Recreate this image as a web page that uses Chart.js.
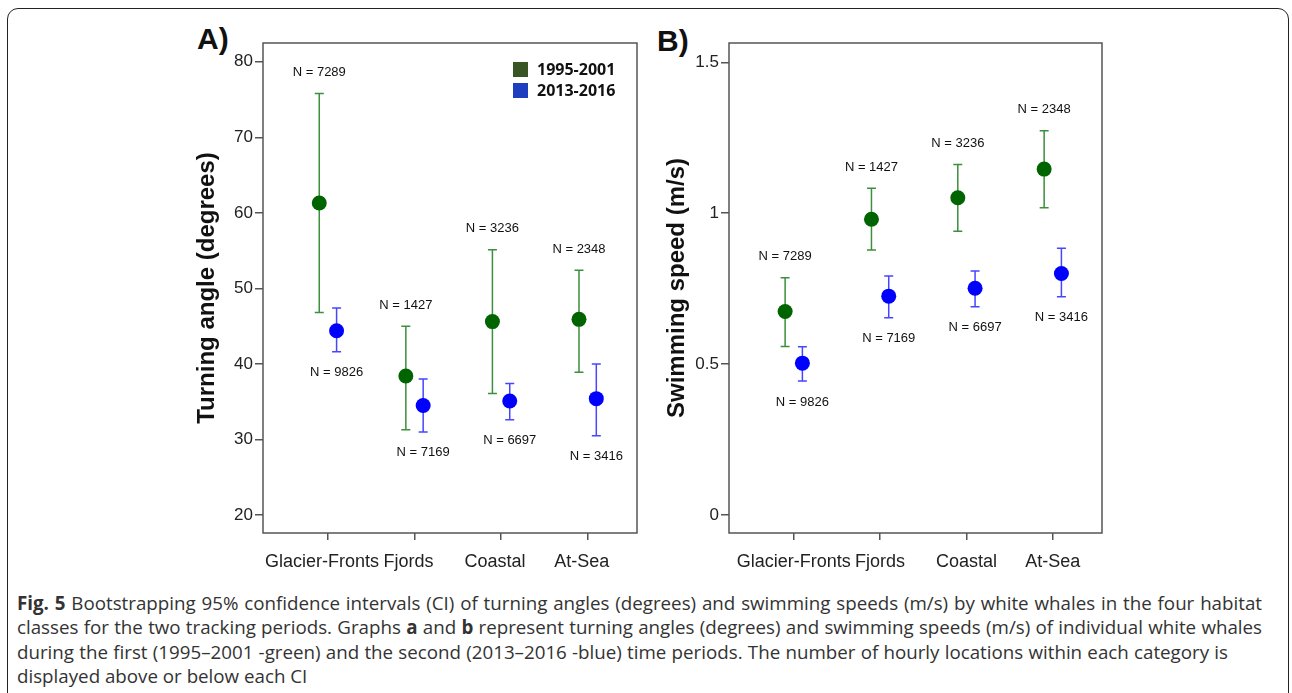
<!DOCTYPE html>
<html>
<head>
<meta charset="utf-8">
<script src="https://cdn.jsdelivr.net/npm/chart.js@4.4.1/dist/chart.umd.min.js"></script>
<style>
  body { margin: 0; background: #fff; width: 1292px; height: 693px; overflow: hidden; position: relative; font-family: "Liberation Sans", Arial, sans-serif; }
  #frame { position: absolute; left: 7px; top: 8px; width: 1280px; height: 740px; border: 1.5px solid #222; border-radius: 11px; }
  canvas { position: absolute; }
  #chartA { left: 180px; top: 20px; }
  #chartB { left: 640px; top: 20px; }
  .panel { position: absolute; font-weight: bold; font-size: 30px; color: #111; }
  #legend { position: absolute; left: 513px; top: 59px; font-family: "Open Sans", sans-serif; font-weight: bold; font-size: 16px; color: #111; }
  #legend div { height: 21px; line-height: 21px; white-space: nowrap; }
  #legend span { display: inline-block; width: 15px; height: 15px; vertical-align: -2px; margin-right: 9px; }
  #caption { position: absolute; left: 17px; top: 591px; font-family: "Open Sans", sans-serif; font-size: 15.5px; color: #333; }
  #caption div { height: 24.3px; line-height: 24.3px; white-space: nowrap; }
  #caption div span { display: inline-block; }
  #caption .j { text-align-last: justify; }
</style>
</head>
<body>
<div id="frame"></div>
<div class="panel" style="left:197px;top:22px">A)</div>
<div class="panel" style="left:657px;top:24px">B)</div>
<canvas id="chartA" width="470" height="560"></canvas>
<canvas id="chartB" width="480" height="560"></canvas>
<div id="legend"></div>
<div id="caption">
  <div data-w="1245"><span><b>Fig. 5</b> Bootstrapping 95% confidence intervals (CI) of turning angles (degrees) and swimming speeds (m/s) by white whales in the four habitat</span></div>
  <div data-w="1245"><span>classes for the two tracking periods. Graphs <b>a</b> and <b>b</b> represent turning angles (degrees) and swimming speeds (m/s) of individual white whales</span></div>
  <div data-w="1211"><span>during the first (1995–2001 -green) and the second (2013–2016 -blue) time periods. The number of hourly locations within each category is</span></div>
  <div><span>displayed above or below each CI</span></div>
</div>
<script>
const categories = ['Glacier-Fronts', 'Fjords', 'Coastal', 'At-Sea'];
const periods = ['1995-2001', '2013-2016'];

// A) turning angle (degrees), mean and 95% CI
const angleMean1 = [61.3, 38.4, 45.6, 45.9];
const angleLow1  = [46.8, 31.3, 36.1, 38.9];
const angleHigh1 = [75.8, 45.0, 55.1, 52.4];
const angleMean2 = [44.4, 34.5, 35.1, 35.4];
const angleLow2  = [41.6, 31.0, 32.6, 30.5];
const angleHigh2 = [47.4, 38.0, 37.4, 40.0];

// B) swimming speed (m/s), mean and 95% CI
const speedMean1 = [0.674, 0.980, 1.051, 1.146];
const speedLow1  = [0.558, 0.878, 0.940, 1.018];
const speedHigh1 = [0.786, 1.083, 1.161, 1.273];
const speedMean2 = [0.503, 0.725, 0.751, 0.800];
const speedLow2  = [0.444, 0.653, 0.690, 0.723];
const speedHigh2 = [0.557, 0.792, 0.808, 0.884];

// number of hourly locations
const count1 = [7289, 1427, 3236, 2348];
const count2 = [9826, 7169, 6697, 3416];

const angleTicks = [20, 30, 40, 50, 60, 70, 80];
const speedTicks = [0, 0.5, 1, 1.5];

const GREEN = '#006400', GREEN_LINE = '#3c8f3c';
const BLUE = '#0000ff', BLUE_LINE = '#4646ff';
const legendColors = ['#375623', '#1d3fbf'];

// legend (inside panel A)
document.getElementById('legend').innerHTML = periods.map((p, i) =>
  `<div><span style="background:${legendColors[i]}"></span>${p}</div>`).join('');

// caption: size the font so the first two lines fill the width, then justify
const cap = document.getElementById('caption');
const lines = [...cap.children];
let k = 1;
lines.slice(0, 2).forEach(d => { k = Math.min(k === 1 ? 99 : k, (+d.dataset.w - 8) / d.firstElementChild.offsetWidth); });
cap.style.fontSize = (15.5 * k).toFixed(2) + 'px';
lines.forEach(d => {
  if (d.dataset.w) {
    d.firstElementChild.style.display = 'block';
    d.style.width = d.dataset.w + 'px';
    d.className = 'j';
  }
});

// error bars, N labels and box frame
const ciPlugin = {
  id: 'ci',
  beforeDatasetsDraw(chart) {
    const { ctx, scales: { x, y } } = chart;
    chart.options.plugins.ci.series.forEach(s => {
      ctx.save();
      ctx.strokeStyle = s.line;
      ctx.lineWidth = 1.5;
      s.low.forEach((lo, i) => {
        const px = x.getPixelForValue(i + 1 + s.dx);
        const y1 = y.getPixelForValue(lo), y2 = y.getPixelForValue(s.high[i]);
        ctx.beginPath();
        ctx.moveTo(px, y1); ctx.lineTo(px, y2);
        ctx.moveTo(px - 4.5, y1); ctx.lineTo(px + 4.5, y1);
        ctx.moveTo(px - 4.5, y2); ctx.lineTo(px + 4.5, y2);
        ctx.stroke();
      });
      ctx.restore();
    });
  },
  afterDatasetsDraw(chart) {
    const { ctx, chartArea: a, scales: { x, y } } = chart;
    ctx.save();
    ctx.font = '13px "Liberation Sans", Arial, sans-serif';
    ctx.fillStyle = '#111';
    ctx.textAlign = 'center';
    ctx.textBaseline = 'middle';
    chart.options.plugins.ci.series.forEach(s => {
      s.n.forEach((n, i) => {
        const px = x.getPixelForValue(i + 1 + s.dx);
        const py = s.above ? y.getPixelForValue(s.high[i]) - 21 : y.getPixelForValue(s.low[i]) + 21;
        ctx.fillText('N = ' + n, px, py);
      });
    });
    ctx.strokeStyle = '#555';
    ctx.lineWidth = 1.5;
    ctx.strokeRect(a.left, a.top, a.right - a.left, a.bottom - a.top);
    ctx.restore();
  }
};

function makeChart(id, o) {
  const pts = (mean, dx) => mean.map((v, i) => ({ x: i + 1 + dx, y: v }));
  return new Chart(document.getElementById(id), {
    type: 'scatter',
    data: {
      datasets: [
        { label: periods[0], data: pts(o.mean1, -0.1), backgroundColor: GREEN, pointRadius: 7.5, pointHoverRadius: 7.5, borderWidth: 0 },
        { label: periods[1], data: pts(o.mean2, 0.1), backgroundColor: BLUE, pointRadius: 7.5, pointHoverRadius: 7.5, borderWidth: 0 }
      ]
    },
    options: {
      responsive: false,
      animation: false,
      layout: { padding: { top: 23, right: o.padRight, left: 0, bottom: 0 } },
      plugins: {
        legend: { display: false },
        tooltip: { enabled: false },
        ci: {
          series: [
            { low: o.low1, high: o.high1, n: count1, line: GREEN_LINE, dx: -0.1, above: true },
            { low: o.low2, high: o.high2, n: count2, line: BLUE_LINE, dx: 0.1, above: false }
          ]
        }
      },
      scales: {
        x: {
          type: 'linear', min: 0.25, max: 4.57,
          afterBuildTicks: s => { s.ticks = categories.map((c, i) => ({ value: i + 1 })); },
          afterFit: s => { s.height = 47; },
          ticks: { callback: v => categories[v - 1], font: { size: 18, family: '"Liberation Sans", Arial' }, color: '#222', padding: 11, maxRotation: 0, labelOffset: o.labelShift },
          grid: { drawOnChartArea: false, drawTicks: true, tickLength: 7, color: '#555', lineWidth: 1.5 },
          border: { display: false }
        },
        y: {
          min: o.min, max: o.max,
          afterBuildTicks: s => { s.ticks = o.ticks.map(v => ({ value: v })); },
          afterFit: s => { s.width = o.axisWidth; },
          ticks: { callback: v => String(v), font: { size: 17, family: '"Liberation Sans", Arial' }, color: '#222', padding: 2 },
          grid: { drawOnChartArea: false, drawTicks: true, tickLength: 8, color: '#555', lineWidth: 1.5 },
          border: { display: false },
          title: { display: true, text: o.title, color: '#111', font: { size: 24, weight: 'bold', family: '"Liberation Sans", Arial' }, padding: { top: o.titlePad, bottom: 0 } }
        }
      }
    },
    plugins: [ciPlugin]
  });
}

makeChart('chartA', {
  mean1: angleMean1, low1: angleLow1, high1: angleHigh1,
  mean2: angleMean2, low2: angleLow2, high2: angleHigh2,
  min: 17.62, max: 82.48, ticks: angleTicks,
  title: 'Turning angle (degrees)', axisWidth: 83, titlePad: 12.6, padRight: 13, labelShift: -6
});

makeChart('chartB', {
  mean1: speedMean1, low1: speedLow1, high1: speedHigh1,
  mean2: speedMean2, low2: speedLow2, high2: speedHigh2,
  min: -0.06, max: 1.564, ticks: speedTicks,
  title: 'Swimming speed (m/s)', axisWidth: 89, titlePad: 22.6, padRight: 18, labelShift: 0
});
</script>
</body>
</html>
